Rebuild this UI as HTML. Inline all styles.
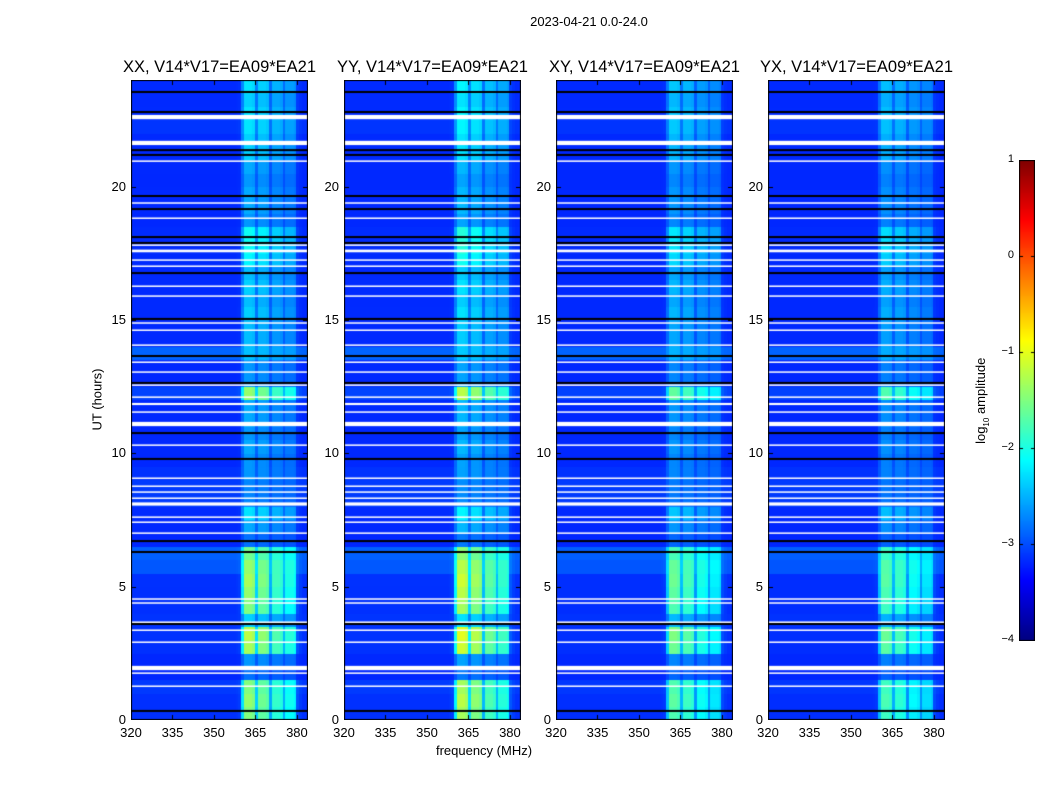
<!DOCTYPE html>
<html><head><meta charset="utf-8">
<style>
body{margin:0;background:#fff;width:1050px;height:800px;overflow:hidden;font-family:"Liberation Sans","DejaVu Sans",sans-serif;}
#wrap{position:relative;width:1050px;height:800px;}
canvas{position:absolute;}
.t{position:absolute;color:#000;white-space:nowrap;}
</style></head>
<body>
<div id="wrap">
<div class="t" style="left:489px;top:14px;width:200px;text-align:center;font-size:13px;">2023-04-21 0.0-24.0</div>
<div class="t" style="left:384px;top:743px;width:200px;text-align:center;font-size:13px;">frequency (MHz)</div>
<div class="t" style="left:47px;top:392px;width:100px;text-align:center;font-size:13px;transform:rotate(-90deg);">UT (hours)</div>
<div class="t" style="left:922px;top:392px;width:120px;text-align:center;font-size:13px;transform:rotate(-90deg);">log<sub style="font-size:8px">10</sub> amplitude</div>
</div>
<script>
const panelTitles=["XX, V14*V17=EA09*EA21","YY, V14*V17=EA09*EA21","XY, V14*V17=EA09*EA21","YX, V14*V17=EA09*EA21"];
const panelGain=[1.0,1.1,0.85,0.8];
const xTicks=[320,335,350,365,380];
const yTicks=[0,5,10,15,20];
const cbTicks=[1,0,-1,-2,-3,-4];
// frequency weight per 1 MHz bin (320..383)
const colWeight=[0.03,0.03,0.03,0.03,0.03,0.03,0.03,0.03,0.03,0.03,0.03,0.03,0.03,0.03,0.03,0.03,0.03,0.03,0.03,0.03,
0.03,0.03,0.03,0.03,0.03,0.03,0.03,0.03,0.03,0.03,0.03,0.03,0.03,0.03,0.03,0.03,0.03,0.03,0.04,0.06,
0.5,0.95,0.95,0.95,0.9,0.45,0.85,0.85,0.85,0.8,0.35,0.7,0.7,0.7,0.65,0.35,0.6,0.6,0.6,0.55,0.12,0.06,0.03,0.03];
// band level per 0.5 h bin from 0h
const bandLevel=[-1.4,-1.3,-1.4,-2.8,-2.6,-1.2,-1.1,-2.3,-1.4,-1.3,-1.2,-1.3,-1.5,-2.8,-2.5,-2.2,-2.7,-2.7,-2.6,-2.6,
-2.5,-2.6,-2.5,-2.5,-1.3,-2.6,-2.6,-2.4,-2.4,-2.4,-2.3,-2.4,-2.3,-2.4,-2.1,-2.0,-2.0,-2.6,-2.5,-2.5,
-2.6,-2.5,-2.3,-2.3,-2.2,-2.2,-2.3,-2.2];
const bgLevel=[-3.2,-3.2,-3.15,-3.2,-3.2,-3.2,-3.2,-3.15,-3.2,-3.2,-3.2,-3.0,-2.95,-3.2,-3.2,-3.2,-3.1,-3.1,-3.15,-3.2,
-3.2,-3.2,-3.2,-3.2,-3.1,-3.2,-3.2,-2.9,-3.2,-3.2,-3.2,-3.2,-3.2,-3.2,-3.2,-3.2,-3.2,-3.2,-3.2,-3.2,
-3.2,-3.2,-3.2,-3.2,-3.15,-3.2,-3.2,-3.2];
const whiteFlags=[22.61,21.64,20.96,19.39,18.82,17.81,17.59,17.25,17.02,16.27,15.9,14.89,14.62,14.06,13.42,13.05,12.56,12.11,11.85,11.55,11.1,10.31,9.07,8.77,8.55,8.32,8.1,7.61,7.42,7.01,4.54,4.39,3.67,3.37,2.92,1.95,1.76,1.27];
const whiteWidth=[0.16,0.16,0.05,0.05,0.05,0.05,0.1,0.05,0.05,0.05,0.05,0.05,0.05,0.05,0.05,0.05,0.05,0.05,0.08,0.05,0.16,0.05,0.05,0.05,0.05,0.05,0.12,0.05,0.05,0.05,0.05,0.05,0.05,0.05,0.05,0.16,0.05,0.05];
const blackFlags=[23.55,22.8,21.37,21.19,19.65,19.16,18.11,17.89,16.76,15.04,13.65,12.64,10.76,9.79,6.71,6.3,3.6,0.34];

function jet(v){
  let t=(v+4)/5; t=Math.max(0,Math.min(1,t));
  const c=x=>Math.max(0,Math.min(1,x));
  const r=c(Math.min(4*t-1.5,-4*t+4.5)), g=c(Math.min(4*t-0.5,-4*t+3.5)), b=c(Math.min(4*t+0.5,-4*t+2.5));
  return `rgb(${Math.round(r*255)},${Math.round(g*255)},${Math.round(b*255)})`;
}
const wrap=document.getElementById('wrap');
const lefts=[131,344,556,768], top0=80, W=177, H=640;
const fx=f=>(f-320)/64*W, fy=h=>H-h/24*H;
function txt(s,x,y,w,align,size,name){
  const d=document.createElement('div'); d.className='t'; d.textContent=s;
  d.style.left=x+'px'; d.style.top=y+'px'; d.style.width=w+'px'; d.style.textAlign=align; d.style.fontSize=size+'px';
  
  
  wrap.appendChild(d);
}
lefts.forEach((L,p)=>{
  const cv=document.createElement('canvas'); cv.width=W; cv.height=H;
  cv.style.left=L+'px'; cv.style.top=top0+'px';
  
  
  wrap.appendChild(cv);
  const g=cv.getContext('2d');
  for(let r=0;r<bandLevel.length;r++){
    for(let c=0;c<colWeight.length;c++){
      const bg=bgLevel[r];
      const v=bg+(bandLevel[r]-bg)*colWeight[c]*panelGain[p];
      g.fillStyle=jet(v);
      const x0=fx(320+c), x1=fx(321+c), y0=fy((r+1)*0.5), y1=fy(r*0.5);
      g.fillRect(Math.floor(x0),Math.floor(y0),Math.ceil(x1)-Math.floor(x0),Math.ceil(y1)-Math.floor(y0));
    }
  }
  g.fillStyle='#fff';
  whiteFlags.forEach((h,i)=>{const y=fy(h+whiteWidth[i]/2); g.fillRect(0,y,W,Math.max(1.5,whiteWidth[i]/24*H));});
  g.fillStyle='#000';
  blackFlags.forEach(h=>{g.fillRect(0,fy(h)-1,W,2);});
  g.strokeStyle='#000'; g.lineWidth=1; g.strokeRect(0.5,0.5,W-1,H-1);
  xTicks.forEach(f=>{const x=Math.round(fx(f))+0.5; g.beginPath(); g.moveTo(x,H); g.lineTo(x,H-5); g.moveTo(x,0); g.lineTo(x,5); g.stroke();
    txt(String(f),L+fx(f)-20,725,40,'center',13,'x-tick-label');});
  yTicks.forEach(h=>{const y=Math.round(fy(h))+0.5; g.beginPath(); g.moveTo(0,y); g.lineTo(5,y); g.moveTo(W,y); g.lineTo(W-5,y); g.stroke();
    txt(String(h),L-40,top0+fy(h)-8,35,'right',13,'y-tick-label');});
  txt(panelTitles[p],L+W/2-115,58,230,'center',16.5,'panel-title');
});
const cb=document.createElement('canvas'); cb.width=16; cb.height=481;
cb.style.left='1019px'; cb.style.top='160px';


wrap.appendChild(cb);
const cg=cb.getContext('2d');
for(let i=0;i<480;i++){cg.fillStyle=jet(1-i/480*5); cg.fillRect(0,i,16,1);}
cg.strokeStyle='#000'; cg.strokeRect(0.5,0.5,15,480);
cbTicks.forEach(v=>{const y=Math.round((1-v)/5*480)+0.5; cg.beginPath(); cg.moveTo(0,y); cg.lineTo(4,y); cg.moveTo(16,y); cg.lineTo(12,y); cg.stroke();
  txt(v<0?'\u2212'+(-v):String(v),970,160+(1-v)/5*480-7,44,'right',11,'colorbar-tick-label');});
</script>
</body></html>
